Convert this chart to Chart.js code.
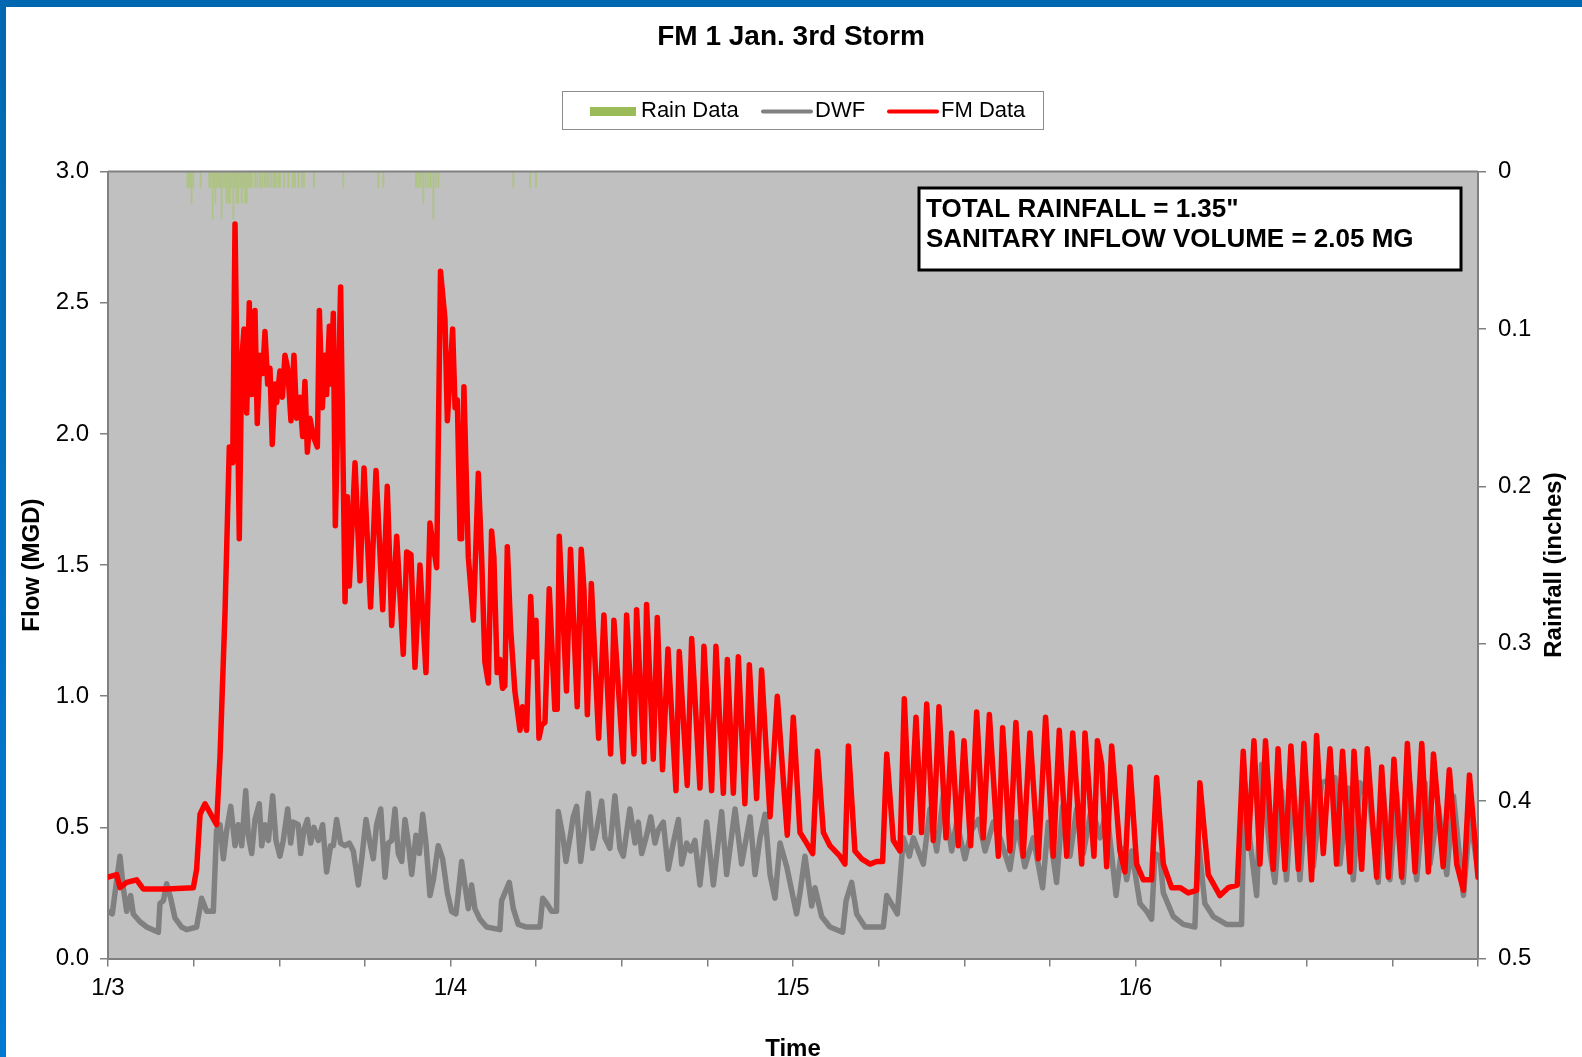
<!DOCTYPE html>
<html>
<head>
<meta charset="utf-8">
<title>FM 1 Jan. 3rd Storm</title>
<script src="https://cdn.jsdelivr.net/npm/chart.js@4.4.0/dist/chart.umd.min.js"></script>
<style>
    html, body { margin: 0; padding: 0; background: #ffffff; }
    #wrap { position: relative; width: 1582px; height: 1057px; overflow: hidden; }
    #chart { position: absolute; left: 0; top: 0; }
    #topbar { position: absolute; left: 0; top: 0; width: 1582px; height: 7px; background: #0068b0; }
    #leftbar { position: absolute; left: 0; top: 0; width: 6px; height: 1057px; background: linear-gradient(#0068b0, #0079d2); }
</style>
</head>
<body>
<div id="wrap">
    <canvas id="chart" width="1582" height="1057"></canvas>
    <div id="topbar"></div>
    <div id="leftbar"></div>
</div>
<script>
// Hours since 1/3 00:00 and flow in MGD
const fmHours = [
    0.00, 0.61, 0.84, 1.31, 2.01, 2.47, 4.11, 5.98, 6.21, 6.45, 6.80, 7.61, 7.85, 8.20, 8.50, 8.74, 8.90, 9.20, 9.37, 9.53,
    9.72, 9.90, 10.07, 10.30, 10.46, 10.65, 10.84, 11.00, 11.19, 11.35, 11.51, 11.70, 11.82, 12.05, 12.22, 12.40, 12.59, 12.82, 13.03, 13.22,
    13.45, 13.64, 13.80, 13.97, 14.15, 14.39, 14.67, 14.81, 15.02, 15.20, 15.32, 15.51, 15.63, 15.79, 15.93, 16.30, 16.61, 16.77, 16.91, 17.31,
    17.66, 17.94, 18.12, 18.40, 18.78, 19.25, 19.57, 19.88, 20.23, 20.69, 20.93, 21.23, 21.51, 21.86, 22.28, 22.56, 22.80, 23.03, 23.30, 23.61,
    23.78, 24.15, 24.32, 24.48, 24.67, 24.78, 24.94, 25.25, 25.41, 25.60, 25.95, 26.18, 26.41, 26.65, 26.88, 27.04, 27.27, 27.46, 27.65, 27.81,
    27.98, 28.21, 28.51, 28.87, 29.05, 29.33, 29.62, 29.80, 29.99, 30.20, 30.39, 30.62, 30.92, 31.31, 31.48, 31.62, 32.13, 32.41, 32.88, 33.16,
    33.35, 33.59, 33.87, 34.38, 34.75, 35.22, 35.45, 36.11, 36.34, 36.86, 37.04, 37.56, 37.74, 38.21, 38.49, 38.86, 39.24, 39.80, 40.03, 40.59,
    40.90, 41.48, 41.76, 42.30, 42.60, 43.12, 43.40, 43.82, 44.17, 44.63, 44.94, 45.45, 45.80, 46.39, 46.90, 47.60, 48.02, 48.49, 48.84, 49.38,
    49.71, 50.13, 50.59, 51.29, 51.64, 51.88, 52.34, 52.81, 53.40, 53.86, 54.28, 54.57, 55.03, 55.50, 55.80, 56.20, 56.62, 57.01, 57.37, 57.83,
    58.23, 58.72, 59.12, 59.58, 59.98, 60.45, 60.87, 61.33, 61.76, 62.39, 62.69, 63.20, 63.62, 64.13, 64.60, 65.19, 65.70, 66.24, 66.66, 67.18,
    67.60, 68.23, 68.46, 69.09, 69.33, 69.63, 69.98, 70.33, 70.91, 71.26, 71.61, 72.08, 72.55, 73.13, 73.48, 73.95, 74.53, 75.12, 75.70, 76.28,
    76.51, 77.10, 77.92, 78.50, 79.13, 79.55, 79.90, 80.30, 80.72, 81.11, 81.65, 81.99, 82.47, 82.89, 83.41, 83.80, 84.34, 84.69, 85.16, 85.63,
    86.09, 86.51, 87.03, 87.31, 87.85, 88.24, 88.90, 89.25, 89.72, 90.11, 90.65, 91.05, 91.59, 92.06, 92.52, 92.88, 93.56, 93.99, 94.51, 94.98,
    95.40, 96.00
];
const fmFlow = [
    0.31, 0.32, 0.27, 0.29, 0.30, 0.265, 0.265, 0.27, 0.34, 0.55, 0.59, 0.51, 0.77, 1.32, 1.95, 1.89, 2.80, 1.60, 2.28, 2.40,
    2.08, 2.50, 2.15, 2.47, 2.04, 2.30, 2.23, 2.39, 2.19, 2.25, 1.96, 2.19, 2.12, 2.24, 2.14, 2.30, 2.25, 2.05, 2.30, 2.06,
    2.14, 1.99, 2.20, 1.93, 2.06, 1.99, 1.95, 2.47, 2.10, 2.30, 2.15, 2.41, 2.19, 2.46, 1.65, 2.56, 1.36, 1.76, 1.42, 1.89,
    1.44, 1.87, 1.66, 1.34, 1.86, 1.33, 1.80, 1.27, 1.61, 1.16, 1.55, 1.54, 1.11, 1.50, 1.09, 1.66, 1.57, 1.49, 2.62, 2.44,
    2.05, 2.40, 2.10, 2.13, 1.60, 1.60, 2.18, 1.53, 1.42, 1.29, 1.85, 1.53, 1.13, 1.05, 1.63, 1.53, 1.09, 1.14, 1.03, 1.04,
    1.57, 1.26, 1.02, 0.87, 0.96, 0.87, 1.38, 1.15, 1.29, 0.84, 0.89, 0.90, 1.41, 0.95, 0.95, 1.61, 1.02, 1.56, 0.96, 1.56,
    1.41, 0.93, 1.43, 0.84, 1.31, 0.78, 1.29, 0.75, 1.31, 0.78, 1.33, 0.75, 1.35, 0.76, 1.30, 0.72, 1.18, 0.64, 1.17, 0.66,
    1.22, 0.65, 1.19, 0.64, 1.19, 0.63, 1.14, 0.63, 1.15, 0.59, 1.12, 0.61, 1.10, 0.54, 1.00, 0.47, 0.92, 0.48, 0.45, 0.40,
    0.79, 0.48, 0.43, 0.39, 0.36, 0.81, 0.41, 0.38, 0.36, 0.37, 0.37, 0.78, 0.45, 0.41, 0.99, 0.48, 0.92, 0.48, 0.97, 0.45,
    0.96, 0.46, 0.86, 0.43, 0.83, 0.43, 0.94, 0.46, 0.93, 0.39, 0.88, 0.41, 0.90, 0.39, 0.86, 0.38, 0.92, 0.39, 0.87, 0.39,
    0.86, 0.36, 0.86, 0.39, 0.83, 0.74, 0.35, 0.81, 0.41, 0.33, 0.73, 0.36, 0.30, 0.30, 0.69, 0.36, 0.27, 0.27, 0.25, 0.26,
    0.67, 0.32, 0.24, 0.27, 0.28, 0.79, 0.42, 0.83, 0.36, 0.83, 0.34, 0.80, 0.34, 0.81, 0.34, 0.82, 0.30, 0.85, 0.40, 0.80,
    0.36, 0.79, 0.33, 0.79, 0.34, 0.80, 0.31, 0.73, 0.31, 0.76, 0.31, 0.82, 0.33, 0.82, 0.33, 0.78, 0.35, 0.72, 0.36, 0.26,
    0.70, 0.31
];

const dwfHours = [
    0.00, 0.30, 0.54, 0.84, 1.07, 1.31, 1.59, 1.77, 2.24, 2.71, 3.53, 3.64, 3.88, 4.11, 4.39, 4.69, 5.16, 5.51, 6.21, 6.56,
    6.91, 7.38, 7.61, 7.85, 8.08, 8.32, 8.60, 8.90, 9.13, 9.37, 9.65, 9.83, 10.07, 10.30, 10.60, 10.77, 11.00, 11.24, 11.54, 11.77,
    12.05, 12.28, 12.59, 12.80, 12.99, 13.33, 13.50, 13.73, 13.97, 14.20, 14.43, 14.74, 15.04, 15.32, 15.60, 15.79, 16.02, 16.30, 16.61, 16.91,
    17.19, 17.54, 17.78, 18.08, 18.36, 18.59, 18.82, 19.11, 19.41, 19.64, 19.88, 20.11, 20.34, 20.58, 20.81, 21.05, 21.28, 21.58, 21.82, 22.05,
    22.28, 22.56, 22.80, 23.14, 23.45, 23.78, 24.08, 24.38, 24.55, 24.78, 25.01, 25.25, 25.48, 25.71, 26.06, 26.53, 27.46, 27.58, 27.81, 28.12,
    28.40, 28.75, 29.33, 30.27, 30.46, 30.74, 31.09, 31.43, 31.55, 31.86, 32.09, 32.37, 32.60, 32.84, 33.12, 33.35, 33.65, 33.96, 34.24, 34.59,
    34.82, 35.17, 35.52, 35.87, 36.11, 36.57, 36.93, 37.16, 37.40, 37.70, 38.03, 38.33, 38.56, 38.91, 39.26, 39.61, 39.97, 40.20, 40.55, 40.83,
    41.13, 41.48, 41.95, 42.42, 43.00, 43.35, 43.94, 44.40, 44.99, 45.34, 45.69, 46.04, 46.39, 46.74, 47.09, 47.56, 48.25, 48.49, 48.84, 49.31,
    49.54, 50.01, 50.59, 51.48, 51.72, 52.11, 52.46, 53.05, 54.33, 54.57, 55.31, 55.73, 56.15, 56.43, 57.13, 57.60, 58.07, 58.53, 59.12, 59.47,
    60.05, 60.52, 60.99, 61.46, 62.04, 62.51, 63.20, 63.67, 64.25, 64.84, 65.49, 65.89, 66.47, 66.89, 67.41, 67.88, 68.34, 68.93, 69.51, 69.98,
    70.64, 71.03, 71.38, 71.73, 72.31, 72.78, 73.13, 73.36, 73.71, 73.95, 74.65, 75.35, 76.16, 76.40, 76.86, 77.45, 78.38, 79.43, 79.67, 80.02,
    80.49, 80.84, 81.42, 81.77, 82.24, 82.58, 83.05, 83.52, 83.99, 84.46, 85.04, 85.98, 86.33, 86.91, 87.26, 87.73, 88.43, 89.01, 89.36, 89.83,
    90.30, 90.76, 91.23, 91.70, 92.29, 92.64, 93.22, 93.81, 94.28, 94.98, 95.45, 96.00
];
const dwfFlow = [
    0.18, 0.17, 0.27, 0.39, 0.27, 0.18, 0.24, 0.17, 0.14, 0.12, 0.10, 0.21, 0.22, 0.285, 0.23, 0.155, 0.12, 0.11, 0.12, 0.23,
    0.18, 0.18, 0.49, 0.51, 0.38, 0.49, 0.58, 0.43, 0.51, 0.43, 0.64, 0.47, 0.40, 0.53, 0.59, 0.43, 0.51, 0.45, 0.62, 0.45,
    0.39, 0.45, 0.57, 0.44, 0.52, 0.51, 0.40, 0.49, 0.53, 0.44, 0.50, 0.45, 0.51, 0.33, 0.43, 0.43, 0.53, 0.44, 0.43, 0.44,
    0.41, 0.28, 0.38, 0.53, 0.44, 0.38, 0.51, 0.57, 0.31, 0.44, 0.45, 0.57, 0.40, 0.37, 0.53, 0.44, 0.32, 0.47, 0.40, 0.55,
    0.44, 0.24, 0.30, 0.43, 0.38, 0.25, 0.18, 0.17, 0.25, 0.37, 0.28, 0.19, 0.28, 0.19, 0.15, 0.12, 0.11, 0.22, 0.25, 0.29,
    0.19, 0.13, 0.12, 0.12, 0.23, 0.21, 0.18, 0.18, 0.56, 0.47, 0.37, 0.46, 0.54, 0.58, 0.37, 0.47, 0.63, 0.42, 0.49, 0.60,
    0.46, 0.42, 0.62, 0.42, 0.39, 0.57, 0.44, 0.52, 0.40, 0.46, 0.54, 0.44, 0.49, 0.52, 0.34, 0.44, 0.53, 0.36, 0.44, 0.41,
    0.45, 0.28, 0.52, 0.28, 0.56, 0.32, 0.57, 0.36, 0.54, 0.32, 0.46, 0.55, 0.32, 0.23, 0.44, 0.35, 0.17, 0.25, 0.39, 0.20,
    0.27, 0.16, 0.12, 0.10, 0.22, 0.29, 0.17, 0.12, 0.12, 0.24, 0.17, 0.46, 0.39, 0.46, 0.36, 0.57, 0.41, 0.62, 0.41, 0.52,
    0.38, 0.49, 0.53, 0.41, 0.52, 0.46, 0.34, 0.52, 0.35, 0.46, 0.27, 0.52, 0.29, 0.58, 0.39, 0.57, 0.40, 0.58, 0.46, 0.57,
    0.24, 0.42, 0.30, 0.41, 0.21, 0.18, 0.15, 0.40, 0.39, 0.25, 0.16, 0.13, 0.12, 0.45, 0.21, 0.16, 0.13, 0.13, 0.67, 0.45,
    0.24, 0.74, 0.41, 0.29, 0.64, 0.30, 0.69, 0.30, 0.64, 0.35, 0.67, 0.69, 0.36, 0.65, 0.30, 0.67, 0.59, 0.29, 0.64, 0.30,
    0.63, 0.29, 0.67, 0.30, 0.67, 0.36, 0.58, 0.32, 0.62, 0.24, 0.54, 0.33
];

// Rain gauge tips (inches), hanging from the top of the reversed right axis
const rainHours = [
    5.56, 5.65, 5.75, 5.86, 5.98, 6.49, 7.10, 7.19, 7.33, 7.43, 7.52, 7.61, 7.73, 7.85, 7.96, 8.08, 8.20, 8.31, 8.43, 8.55,
    8.66, 8.78, 8.90, 9.02, 9.13, 9.25, 9.37, 9.48, 9.60, 9.72, 9.83, 9.95, 10.07, 10.30, 10.47, 10.65, 10.81, 11.00, 11.16, 11.30,
    11.47, 11.63, 11.77, 11.94, 12.05, 12.33, 12.64, 12.94, 13.10, 13.34, 13.57, 13.73, 14.43, 16.49, 18.94, 19.29, 21.58, 21.75, 21.91, 22.10,
    22.26, 22.45, 22.61, 22.80, 22.96, 23.15, 28.40, 29.57, 29.99
];
const rainInches = [
    0.01, 0.01, 0.01, 0.02, 0.01, 0.01, 0.01, 0.01, 0.03, 0.01, 0.02, 0.01, 0.01, 0.01, 0.03, 0.01, 0.01, 0.02, 0.02, 0.02,
    0.01, 0.03, 0.01, 0.02, 0.02, 0.01, 0.02, 0.01, 0.02, 0.02, 0.01, 0.01, 0.01, 0.01, 0.01, 0.01, 0.01, 0.01, 0.01, 0.01,
    0.01, 0.01, 0.01, 0.01, 0.01, 0.01, 0.01, 0.01, 0.01, 0.01, 0.01, 0.01, 0.01, 0.01, 0.01, 0.01, 0.01, 0.01, 0.01, 0.02,
    0.01, 0.01, 0.01, 0.03, 0.01, 0.01, 0.01, 0.01, 0.01
];

// Axis ticks
const dayLabels = ['1/3', '1/4', '1/5', '1/6'];
const flowTicks = [0, 0.5, 1.0, 1.5, 2.0, 2.5, 3.0];
const rainTicks = [0, 0.1, 0.2, 0.3, 0.4, 0.5];

const chartTitle = 'FM 1 Jan. 3rd Storm';
const noteLines = ['TOTAL RAINFALL = 1.35"', 'SANITARY INFLOW VOLUME = 2.05 MG'];

const colors = {
    rain: '#afc387',
    legendRain: '#9bbb59',
    dwf: '#808080',
    fm: '#ff0000',
    plot: '#c0c0c0',
    axis: '#808080',
    text: '#000000'
};
const FONT = "'Liberation Sans', Arial, sans-serif";

function toPoints(xs, ys) {
    return xs.map((x, i) => ({ x: x, y: ys[i] }));
}

// Plot background, frame, legend, note box and axis titles
const decorations = {
    id: 'decorations',
    beforeDraw(chart) {
        const { ctx, chartArea: a } = chart;
        ctx.save();
        ctx.fillStyle = colors.plot;
        ctx.fillRect(a.left, a.top, a.right - a.left, a.bottom - a.top);
        ctx.restore();
    },
    afterDraw(chart) {
        const { ctx, chartArea: a } = chart;
        ctx.save();

        // top edge of the plot
        ctx.strokeStyle = colors.axis;
        ctx.lineWidth = 2;
        ctx.beginPath();
        ctx.moveTo(a.left, a.top);
        ctx.lineTo(a.right, a.top);
        ctx.stroke();

        // note box
        ctx.fillStyle = '#ffffff';
        ctx.fillRect(919, 188, 542, 82);
        ctx.strokeStyle = '#000000';
        ctx.lineWidth = 3;
        ctx.strokeRect(919, 188, 542, 82);
        ctx.fillStyle = colors.text;
        ctx.font = 'bold 26px ' + FONT;
        ctx.textAlign = 'left';
        ctx.textBaseline = 'middle';
        ctx.fillText(noteLines[0], 926, 210);
        ctx.fillText(noteLines[1], 926, 240);

        // legend
        ctx.strokeStyle = '#8c8c8c';
        ctx.lineWidth = 1;
        ctx.strokeRect(562.5, 91.5, 481, 38);
        ctx.fillStyle = colors.legendRain;
        ctx.fillRect(590, 107, 46, 9);
        ctx.lineWidth = 4;
        ctx.lineCap = 'round';
        ctx.strokeStyle = colors.dwf;
        ctx.beginPath(); ctx.moveTo(763, 111.5); ctx.lineTo(811, 111.5); ctx.stroke();
        ctx.strokeStyle = colors.fm;
        ctx.beginPath(); ctx.moveTo(889, 111.5); ctx.lineTo(937, 111.5); ctx.stroke();
        ctx.fillStyle = colors.text;
        ctx.font = '22px ' + FONT;
        ctx.fillText('Rain Data', 641, 111);
        ctx.fillText('DWF', 815, 111);
        ctx.fillText('FM Data', 941, 111);

        // axis titles
        ctx.font = 'bold 24px ' + FONT;
        ctx.textAlign = 'center';
        ctx.fillText('Time', (a.left + a.right) / 2, 1049);
        ctx.translate(32, (a.top + a.bottom) / 2);
        ctx.rotate(-Math.PI / 2);
        ctx.fillText('Flow (MGD)', 0, 0);
        ctx.restore();

        ctx.save();
        ctx.fillStyle = colors.text;
        ctx.font = 'bold 24px ' + FONT;
        ctx.textAlign = 'center';
        ctx.textBaseline = 'middle';
        ctx.translate(1554, (a.top + a.bottom) / 2);
        ctx.rotate(-Math.PI / 2);
        ctx.fillText('Rainfall (inches)', 0, 0);
        ctx.restore();
    }
};

const tickFont = { family: FONT, size: 24 };
const axisGrid = { drawOnChartArea: false, drawTicks: true, offset: false, tickLength: 8, color: colors.axis, lineWidth: 1.5 };
const axisBorder = { display: true, color: colors.axis, width: 2 };

new Chart(document.getElementById('chart'), {
    type: 'line',
    data: {
        datasets: [
            {
                label: 'Rain Data',
                type: 'bar',
                data: toPoints(rainHours, rainInches),
                xAxisID: 'x',
                yAxisID: 'y2',
                backgroundColor: colors.rain,
                barThickness: 1.2,
                grouped: false,
                order: 3
            },
            {
                label: 'DWF',
                data: toPoints(dwfHours, dwfFlow),
                yAxisID: 'y',
                borderColor: colors.dwf,
                borderWidth: 5.5,
                borderJoinStyle: 'round',
                borderCapStyle: 'round',
                pointRadius: 0,
                tension: 0,
                order: 2
            },
            {
                label: 'FM Data',
                data: toPoints(fmHours, fmFlow),
                yAxisID: 'y',
                borderColor: colors.fm,
                borderWidth: 5.5,
                borderJoinStyle: 'round',
                borderCapStyle: 'round',
                pointRadius: 0,
                tension: 0,
                order: 1
            }
        ]
    },
    options: {
        responsive: false,
        animation: false,
        devicePixelRatio: 1,
        layout: { padding: 0 },
        plugins: {
            legend: { display: false },
            tooltip: { enabled: false },
            title: {
                display: true,
                text: chartTitle,
                color: colors.text,
                font: { family: FONT, size: 28, weight: 'bold' },
                padding: { top: 20, bottom: 118 }
            }
        },
        scales: {
            x: {
                type: 'linear',
                min: 0,
                max: 96,
                offset: false,
                grid: axisGrid,
                border: axisBorder,
                ticks: {
                    stepSize: 6,
                    autoSkip: false,
                    maxRotation: 0,
                    padding: 7,
                    color: colors.text,
                    font: tickFont,
                    callback: v => (v % 24 === 0 && v / 24 < dayLabels.length) ? dayLabels[v / 24] : ''
                },
                afterFit: s => { s.height = 98.5; }
            },
            y: {
                position: 'left',
                min: flowTicks[0],
                max: flowTicks[flowTicks.length - 1],
                grid: axisGrid,
                border: axisBorder,
                afterBuildTicks: s => { s.ticks = flowTicks.map(v => ({ value: v })); },
                ticks: {
                    padding: 11,
                    color: colors.text,
                    font: tickFont,
                    callback: v => Number(v).toFixed(1)
                },
                afterFit: s => { s.width = 108; }
            },
            y2: {
                position: 'right',
                reverse: true,
                min: rainTicks[0],
                max: rainTicks[rainTicks.length - 1],
                grid: axisGrid,
                border: axisBorder,
                afterBuildTicks: s => { s.ticks = rainTicks.map(v => ({ value: v })); },
                ticks: {
                    padding: 12,
                    color: colors.text,
                    font: tickFont,
                    callback: v => v === 0 ? '0' : Number(v).toFixed(1)
                },
                afterFit: s => { s.width = 104; }
            }
        }
    },
    plugins: [decorations]
});
</script>
</body>
</html>
